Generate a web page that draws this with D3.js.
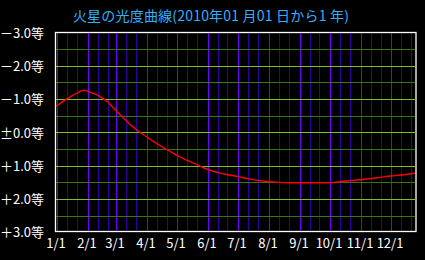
<!DOCTYPE html>
<html><head><meta charset="utf-8">
<script src="https://cdn.jsdelivr.net/npm/d3@7"></script>
<style>
html,body{margin:0;padding:0;background:#000;}
svg{display:block;}
text{font-family:"Noto Sans CJK JP","Noto Sans",sans-serif;}
</style></head>
<body><svg id="c" width="425" height="260"></svg>
<script>
const titleText = "火星の光度曲線(2010年01 月01 日から1 年)";
const dates = ["2010-01-01","2010-01-11","2010-01-21","2010-01-29","2010-02-01","2010-02-11","2010-02-21",
 "2010-03-01","2010-03-11","2010-03-21","2010-04-01","2010-04-11","2010-04-21","2010-05-01","2010-05-11","2010-05-21",
 "2010-06-01","2010-06-11","2010-06-21","2010-07-01","2010-07-11","2010-07-21","2010-08-01","2010-08-11","2010-08-21",
 "2010-09-01","2010-09-11","2010-09-21","2010-10-01","2010-10-11","2010-10-21","2010-11-01","2010-11-11","2010-11-21",
 "2010-12-01","2010-12-11","2010-12-21","2010-12-27"];
const magnitudes = [-0.79,-1.00,-1.17,-1.27,-1.24,-1.12,-0.92,
 -0.67,-0.37,-0.10,0.13,0.33,0.51,0.68,0.83,0.96,
 1.11,1.20,1.27,1.32,1.39,1.44,1.48,1.50,1.51,
 1.51,1.51,1.51,1.51,1.48,1.45,1.42,1.39,1.35,
 1.31,1.28,1.25,1.22];
const yTickValues = [-3,-2,-1,0,1,2,3];
const yTickLabels = ["－3.0等","－2.0等","－1.0等","±0.0等","＋1.0等","＋2.0等","＋3.0等"];
const monthLabels = ["1/1","2/1","3/1","4/1","5/1","6/1","7/1","8/1","9/1","10/1","11/1","12/1"];

const parse = d3.utcParse("%Y-%m-%d");
const data = dates.map((d,i)=>({date:parse(d), mag:magnitudes[i]}));

const svg = d3.select("#c");
const L=55.5, R=415.5, T=32.5, B=231.5;
const x = d3.scaleUtc().domain([parse("2010-01-01"), parse("2010-12-27")]).range([56.5, 416.5]);
const y = d3.scaleLinear().domain([-3,3]).range([32.5, 232.3]);

svg.append("rect").attr("width",425).attr("height",260).attr("fill","#000");

// vertical grid lines: 1st, 11th, 21st of each month
const vdays = [];
for (let m=0;m<12;m++) for (const d of [1,11,21]) vdays.push(new Date(Date.UTC(2010,m,d)));
svg.append("g").selectAll("line").data(vdays.filter(d=>x(d)<R)).join("line")
  .attr("x1",d=>Math.round(x(d))+0.5).attr("x2",d=>Math.round(x(d))+0.5)
  .attr("y1",T).attr("y2",B)
  .attr("stroke",d=>d.getUTCDate()===1?"#7000ff":"#3000a0")
  .attr("stroke-width",1).attr("shape-rendering","crispEdges");

// horizontal grid lines every 0.5
const hvals = d3.range(-2.5,2.51,0.5);
svg.append("g").selectAll("line").data(hvals).join("line")
  .attr("x1",L+0.5).attr("x2",R-0.5)
  .attr("y1",d=>Math.round(y(d))+0.5).attr("y2",d=>Math.round(y(d))+0.5)
  .attr("stroke",d=>Number.isInteger(d)?"#80c020":"#3c7410")
  .attr("stroke-width",1).attr("shape-rendering","crispEdges");

// curve
svg.append("path").datum(data)
  .attr("d", d3.line().x(d=>x(d.date)).y(d=>y(d.mag)).curve(d3.curveMonotoneX))
  .attr("fill","none").attr("stroke","#ff0000").attr("stroke-width",1.4);

// frame
svg.append("rect").attr("x",L).attr("y",T).attr("width",R-L+0.5).attr("height",B-T)
  .attr("fill","none").attr("stroke","#fff").attr("stroke-width",1.3);

// y labels
const yAxis = d3.axisLeft(y).tickValues(yTickValues).tickSize(0).tickPadding(0)
  .tickFormat((d,i)=>yTickLabels[i]);
const gy = svg.append("g").attr("transform","translate(44,0)").call(yAxis);
gy.select(".domain").remove();
gy.selectAll(".tick line").remove();
gy.selectAll("text").attr("fill","#fff").attr("font-size","13px").attr("dy","0.36em");

// x labels
const monthDates = d3.range(12).map(m=>new Date(Date.UTC(2010,m,1)));
const xAxis = d3.axisBottom(x).tickValues(monthDates).tickSize(0).tickPadding(0)
  .tickFormat((d,i)=>monthLabels[i]);
const gx = svg.append("g").attr("transform","translate(-1,243)").call(xAxis);
gx.select(".domain").remove();
gx.selectAll(".tick line").remove();
gx.selectAll("text").attr("fill","#fff").attr("font-size","13px").attr("dy","0.36em");

// title
svg.append("text").attr("x",211).attr("y",16).attr("dy","0.36em")
  .attr("text-anchor","middle").attr("fill","#30b0ff").attr("font-size","14px")
  .attr("letter-spacing","0.2px")
  .text(titleText);
</script></body></html>
